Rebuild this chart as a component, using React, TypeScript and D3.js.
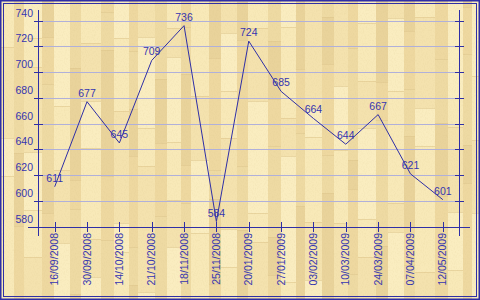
import React from "react";
import * as d3 from "d3";

const categories = [
  "16/09/2008", "30/09/2008", "14/10/2008", "21/10/2008", "18/11/2008", "25/11/2008",
  "20/01/2009", "27/01/2009", "03/02/2009", "10/03/2009", "24/03/2009", "07/04/2009", "12/05/2009",
];
const values = [611, 677, 645, 709, 736, 584, 724, 685, 664, 644, 667, 621, 601];
const yTicks = [580, 600, 620, 640, 660, 680, 700, 720, 740];

const W = 480;
const H = 300;
const NAVY = "#2f2fa6";
const TEXT = "#3535b0";
const GRID = "#b0b0da";
const FONT = "'Liberation Sans', Arial, sans-serif";

const plankColors = ["#f8e9b8", "#eedaa3", "#f4e2ae", "#e9d39b", "#faedc0", "#eed8a0"];
const plankWidths = [14, 10, 18, 12, 16, 11, 20, 13, 15, 9, 17, 12];
const segLens = [47, 91, 38, 126, 64, 73, 112, 29, 85, 58];

function Background() {
  const rects: React.ReactNode[] = [];
  let x0 = 0;
  let c = 0;
  while (x0 < W) {
    const colW = plankWidths[c % plankWidths.length];
    let yy = -((c * 37) % 90);
    let s = c * 3;
    while (yy < H) {
      const len = segLens[s % segLens.length];
      const col = plankColors[(c * 5 + s * 2) % plankColors.length];
      rects.push(<rect key={`${c}-${s}`} x={x0} y={yy} width={colW} height={len} fill={col} />);
      rects.push(
        <line key={`l${c}-${s}`} x1={x0} x2={x0 + colW} y1={yy + 0.5} y2={yy + 0.5} stroke="#dfc88f" strokeWidth={0.6} />
      );
      yy += len;
      s++;
    }
    x0 += colW;
    c++;
  }
  return <g>{rects}</g>;
}

export default function App() {
  const y = d3.scaleLinear().domain([580, 740]).range([226.7, 20.5]);
  const x = d3.scaleBand<string>().domain(categories).range([38.5, 459]);
  const cx = (c: string) => (x(c) as number) + x.bandwidth() / 2;
  const line = d3
    .line<number>()
    .x((_, i) => cx(categories[i]))
    .y((d) => y(d));
  const axY = y(580);
  const leftX = 38.5;
  const rightX = 459.5;
  const py = (t: number) => Math.round(y(t)) + 0.5;

  return (
    <svg width={W} height={H} style={{ position: "absolute", left: 0, top: 0 }}>
      <defs>
        <filter id="grain" x="0" y="0" width="100%" height="100%">
          <feTurbulence type="fractalNoise" baseFrequency="1.1 0.6" numOctaves={1} seed={3} result="n" />
          <feColorMatrix
            type="matrix"
            values="0 0 0 0 0.6  0 0 0 0 0.48  0 0 0 0 0.2  0 0 0 -1.6 0.9"
          />
        </filter>
      </defs>
      <Background />
      <rect x={0} y={0} width={W} height={H} filter="url(#grain)" opacity={0.18} />
      <rect x={0.75} y={0.75} width={W - 1.5} height={H - 1.5} fill="none" stroke={NAVY} strokeWidth={1.5} />
      <rect x={3.5} y={3.5} width={W - 7} height={H - 7} fill="none" stroke={NAVY} strokeWidth={1} />

      {yTicks.filter((t) => t !== 580).map((t) => (
        <line key={`g${t}`} x1={leftX} x2={rightX} y1={py(t)} y2={py(t)} stroke={GRID} strokeWidth={1} />
      ))}

      <line x1={leftX} x2={leftX} y1={10} y2={236} stroke={NAVY} strokeWidth={1} />
      <line x1={rightX} x2={rightX} y1={10} y2={236} stroke={NAVY} strokeWidth={1} />
      <line x1={28} x2={470} y1={Math.round(axY) + 0.5} y2={Math.round(axY) + 0.5} stroke={NAVY} strokeWidth={1} />

      {yTicks.map((t) => (
        <g key={`t${t}`}>
          <line x1={34} x2={43} y1={py(t)} y2={py(t)} stroke={NAVY} />
          <line x1={455} x2={464} y1={py(t)} y2={py(t)} stroke={NAVY} />
          <text x={33} y={y(t) - 4} textAnchor="end" fontFamily={FONT} fontSize={10.5} fill={TEXT}>
            {t}
          </text>
        </g>
      ))}

      {categories.map((c) => (
        <g key={c}>
          <line x1={Math.round(cx(c)) + 0.5} x2={Math.round(cx(c)) + 0.5} y1={222} y2={232} stroke={NAVY} />
          <text
            transform={`translate(${cx(c) + 3.5},233) rotate(-90)`}
            textAnchor="end"
            fontFamily={FONT}
            fontSize={10.5}
            fill={TEXT}
          >
            {c}
          </text>
        </g>
      ))}

      <path d={line(values) || ""} fill="none" stroke={NAVY} strokeWidth={1} />

      {values.map((v, i) => (
        <text
          key={`v${i}`}
          x={cx(categories[i])}
          y={y(v) - 5}
          textAnchor="middle"
          fontFamily={FONT}
          fontSize={10.5}
          fill={TEXT}
        >
          {v}
        </text>
      ))}
    </svg>
  );
}
